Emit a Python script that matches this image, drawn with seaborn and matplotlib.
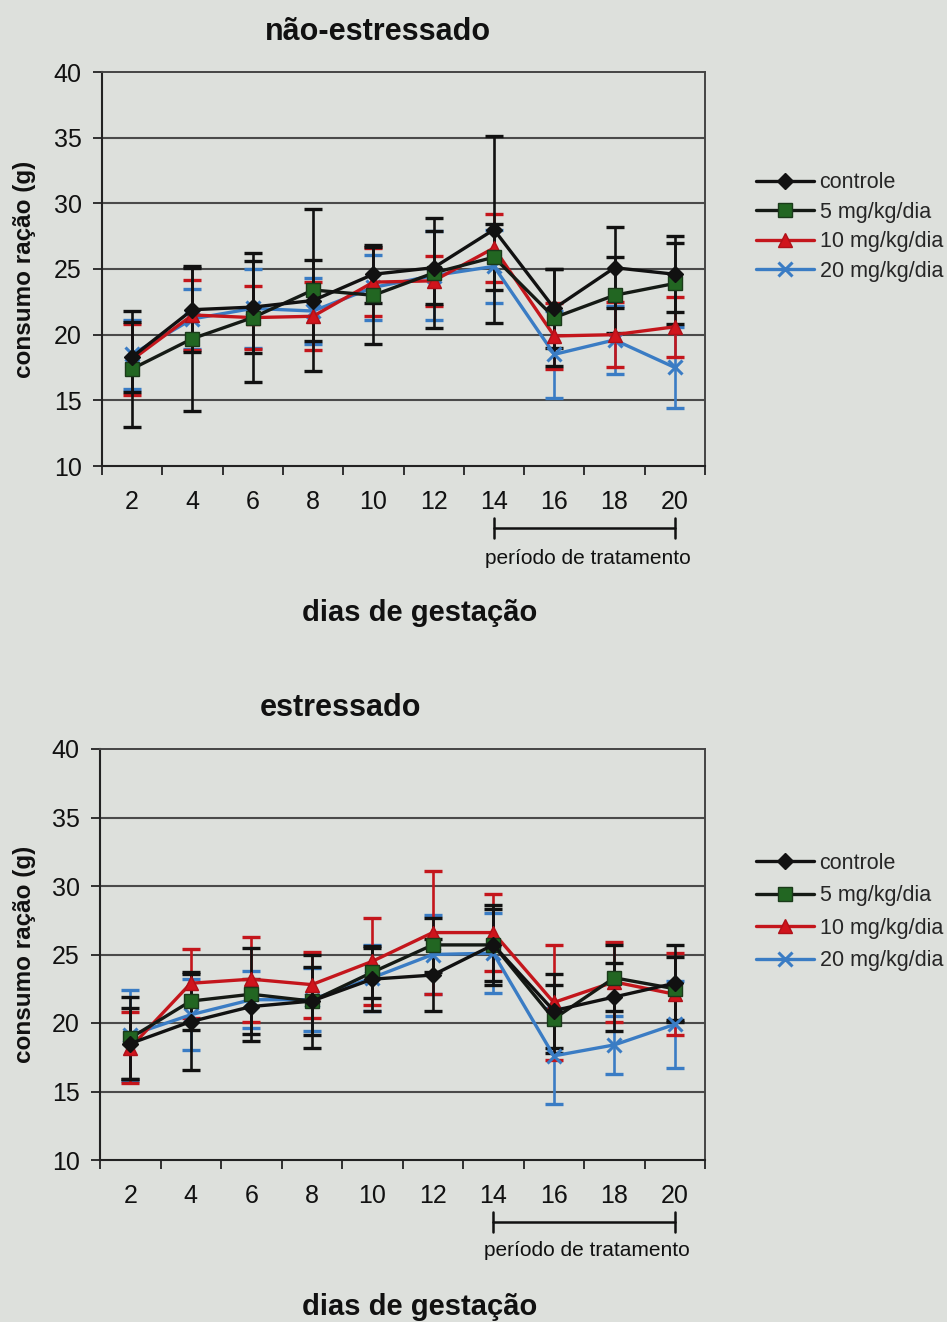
import numpy as np
import pandas as pd
import matplotlib
matplotlib.use("Agg")
import matplotlib.pyplot as plt
from matplotlib.lines import Line2D
import seaborn as sns

# ---------------- data ----------------
days = ["2", "4", "6", "8", "10", "12", "14", "16", "18", "20"]
series_names = ["controle", "5 mg/kg/dia", "10 mg/kg/dia", "20 mg/kg/dia"]

# não-estressado
ne_controle = [18.3, 21.9, 22.1, 22.6, 24.6, 25.1, 28.0, 22.0, 25.1, 24.6]
ne_controle_err = [2.7, 3.2, 3.5, 3.1, 2.2, 2.8, 7.1, 3.0, 3.1, 2.9]
ne_5mg = [17.4, 19.7, 21.3, 23.4, 23.0, 24.7, 25.9, 21.3, 23.0, 23.9]
ne_5mg_err = [4.4, 5.5, 4.9, 6.2, 3.7, 4.2, 2.5, 3.7, 2.9, 3.1]
ne_10mg = [18.1, 21.5, 21.3, 21.4, 24.0, 24.1, 26.6, 19.9, 20.0, 20.6]
ne_10mg_err = [2.7, 2.7, 2.4, 2.6, 2.6, 1.9, 2.6, 2.5, 2.5, 2.3]
ne_20mg = [18.5, 21.2, 22.0, 21.8, 23.6, 24.5, 25.2, 18.5, 19.6, 17.5]
ne_20mg_err = [2.6, 2.3, 3.0, 2.5, 2.5, 3.4, 2.8, 3.3, 2.6, 3.1]

# estressado
e_controle = [18.5, 20.1, 21.2, 21.6, 23.2, 23.5, 25.7, 20.9, 21.9, 22.9]
e_controle_err = [2.6, 3.5, 2.0, 3.4, 2.3, 2.6, 2.9, 2.7, 2.5, 2.8]
e_5mg = [18.9, 21.6, 22.1, 21.6, 23.7, 25.7, 25.7, 20.3, 23.3, 22.5]
e_5mg_err = [3.0, 2.1, 3.4, 2.5, 1.9, 2.0, 2.6, 2.5, 2.4, 2.3]
e_10mg = [18.2, 22.9, 23.2, 22.8, 24.5, 26.6, 26.6, 21.5, 23.0, 22.1]
e_10mg_err = [2.6, 2.5, 3.1, 2.4, 3.2, 4.5, 2.8, 4.2, 2.9, 3.0]
e_20mg = [19.1, 20.6, 21.7, 21.7, 23.3, 25.0, 25.1, 17.6, 18.4, 19.9]
e_20mg_err = [3.3, 2.6, 2.1, 2.3, 2.4, 2.9, 2.9, 3.5, 2.1, 3.2]

# ---------------- style ----------------
BG = "#dde0dc"
sns.set_theme(style="white")
plt.rcParams["font.family"] = ["Liberation Sans", "DejaVu Sans"]

styles = {
    "controle":     dict(line="#111111", face="#111111", edge="#111111", marker="D", ms=8.5, err="#111111"),
    "5 mg/kg/dia":  dict(line="#151a15", face="#226622", edge="#1a3a1a", marker="s", ms=9.5, err="#111111"),
    "10 mg/kg/dia": dict(line="#c4161c", face="#d0141c", edge="#b01018", marker="^", ms=10, err="#c4161c"),
    "20 mg/kg/dia": dict(line="#3a7cc4", face="#3a7cc4", edge="#3a7cc4", marker="x", ms=10, err="#3a7cc4"),
}

fig = plt.figure(figsize=(9.47, 13.22), dpi=100, facecolor=BG)

W, H = 947.0, 1322.0


def make_axes(left, right, top, bottom):
    return fig.add_axes([left / W, 1 - bottom / H, (right - left) / W, (bottom - top) / H])


def draw_panel(ax, data, title, title_xy, geom):
    ax.set_facecolor(BG)
    x = np.arange(len(days))
    order = ["20 mg/kg/dia", "10 mg/kg/dia", "5 mg/kg/dia", "controle"]
    for name in order:
        vals, errs = data[name]
        st = styles[name]
        ax.errorbar(x, vals, yerr=errs, fmt="none", ecolor=st["err"], elinewidth=1.9,
                    capsize=6.5, capthick=2.4, zorder=2)
    for name in order:
        vals, errs = data[name]
        st = styles[name]
        df = pd.DataFrame({"pos": x, "valor": vals})
        sns.lineplot(data=df, x="pos", y="valor", ax=ax, color=st["line"], linewidth=2.4,
                     marker=st["marker"], markersize=st["ms"], markerfacecolor=st["face"],
                     markeredgecolor=st["edge"], markeredgewidth=2.2 if st["marker"] == "x" else 1.0,
                     zorder=3, legend=False)

    ax.set_xlim(-0.5, len(days) - 0.5)
    ax.set_ylim(10, 40)
    ax.set_yticks(np.arange(10, 41, 5))
    ax.set_yticklabels([str(v) for v in range(10, 41, 5)], fontsize=18)
    ax.set_xticks(x)
    ax.set_xticklabels(days, fontsize=18)
    ax.set_xticks(np.arange(-0.5, len(days)), minor=True)
    ax.tick_params(axis="x", which="major", length=0, pad=17.5, colors="#111111")
    ax.tick_params(axis="x", which="minor", length=6.5, width=1.3, color="#222222", direction="out", bottom=True)
    ax.tick_params(axis="y", which="major", length=6.5, width=1.3, color="#222222", direction="out",
                   left=True, pad=8, labelcolor="#111111")
    ax.set_xlabel("")
    ax.set_ylabel("")
    ax.grid(False)
    for yv in range(15, 40, 5):
        ax.axhline(yv, color="#4a4a4a", linewidth=1.5, zorder=1)
    for side in ["left", "bottom"]:
        ax.spines[side].set_color("#222222")
        ax.spines[side].set_linewidth(1.5)
    for side in ["top", "right"]:
        ax.spines[side].set_color("#444444")
        ax.spines[side].set_linewidth(1.4)

    # title
    ax.text(title_xy[0], title_xy[1], title, transform=ax.transAxes, ha="center", va="center",
            fontsize=22, fontweight="bold", color="#111111")
    # y label
    ax.text(geom["ylab_x"], 0.5, "consumo ração (g)", transform=ax.transAxes, rotation=90,
            ha="center", va="center", fontsize=17.5, fontweight="bold", color="#111111")
    # treatment bracket
    tr = ax.get_xaxis_transform()
    yb, yt0, yt1 = geom["bracket"]
    ax.plot([6, 9], [yb, yb], transform=tr, color="#111111", linewidth=1.8, clip_on=False)
    ax.plot([6, 6], [yt0, yt1], transform=tr, color="#111111", linewidth=1.8, clip_on=False)
    ax.plot([9, 9], [yt0, yt1], transform=tr, color="#111111", linewidth=1.8, clip_on=False)
    ax.text(7.55, geom["ptext"], "período de tratamento", transform=tr, ha="center", va="center",
            fontsize=15, color="#111111")
    ax.text(geom["xlab"][0], geom["xlab"][1], "dias de gestação", transform=ax.transAxes,
            ha="center", va="center", fontsize=21, fontweight="bold", color="#111111")


def add_legend(center_y, spacing):
    handles = []
    for name in series_names:
        st = styles[name]
        handles.append(Line2D([0], [0], color=st["line"], linewidth=2.4, marker=st["marker"],
                              markersize=st["ms"], markerfacecolor=st["face"],
                              markeredgecolor=st["edge"],
                              markeredgewidth=2.2 if st["marker"] == "x" else 1.0))
    fig.legend(handles, series_names, loc="center left",
               bbox_to_anchor=(756 / W, 1 - center_y / H), frameon=False, fontsize=15.5,
               handlelength=2.7, handletextpad=0.25, labelspacing=spacing, borderpad=0,
               borderaxespad=0)


ax1 = make_axes(102, 705, 72, 466)
data1 = {
    "controle": (ne_controle, ne_controle_err),
    "5 mg/kg/dia": (ne_5mg, ne_5mg_err),
    "10 mg/kg/dia": (ne_10mg, ne_10mg_err),
    "20 mg/kg/dia": (ne_20mg, ne_20mg_err),
}
draw_panel(ax1, data1, "não-estressado", ((378 - 102) / 603, 1 + 40 / 394),
           dict(ylab_x=(25 - 102) / 603, bracket=(-62 / 394, -52 / 394, -72 / 394),
                ptext=-92 / 394, xlab=((420 - 102) / 603, -147 / 394)))
add_legend(227, 0.4)

ax2 = make_axes(100, 705, 749, 1160)
data2 = {
    "controle": (e_controle, e_controle_err),
    "5 mg/kg/dia": (e_5mg, e_5mg_err),
    "10 mg/kg/dia": (e_10mg, e_10mg_err),
    "20 mg/kg/dia": (e_20mg, e_20mg_err),
}
draw_panel(ax2, data2, "estressado", ((340 - 100) / 605, 1 + 41 / 411),
           dict(ylab_x=(25 - 100) / 605, bracket=(-62 / 411, -52 / 411, -72 / 411),
                ptext=-90 / 411, xlab=((420 - 100) / 605, -147 / 411)))
add_legend(912, 0.53)

fig.savefig("out.png", dpi=100, facecolor=BG)
